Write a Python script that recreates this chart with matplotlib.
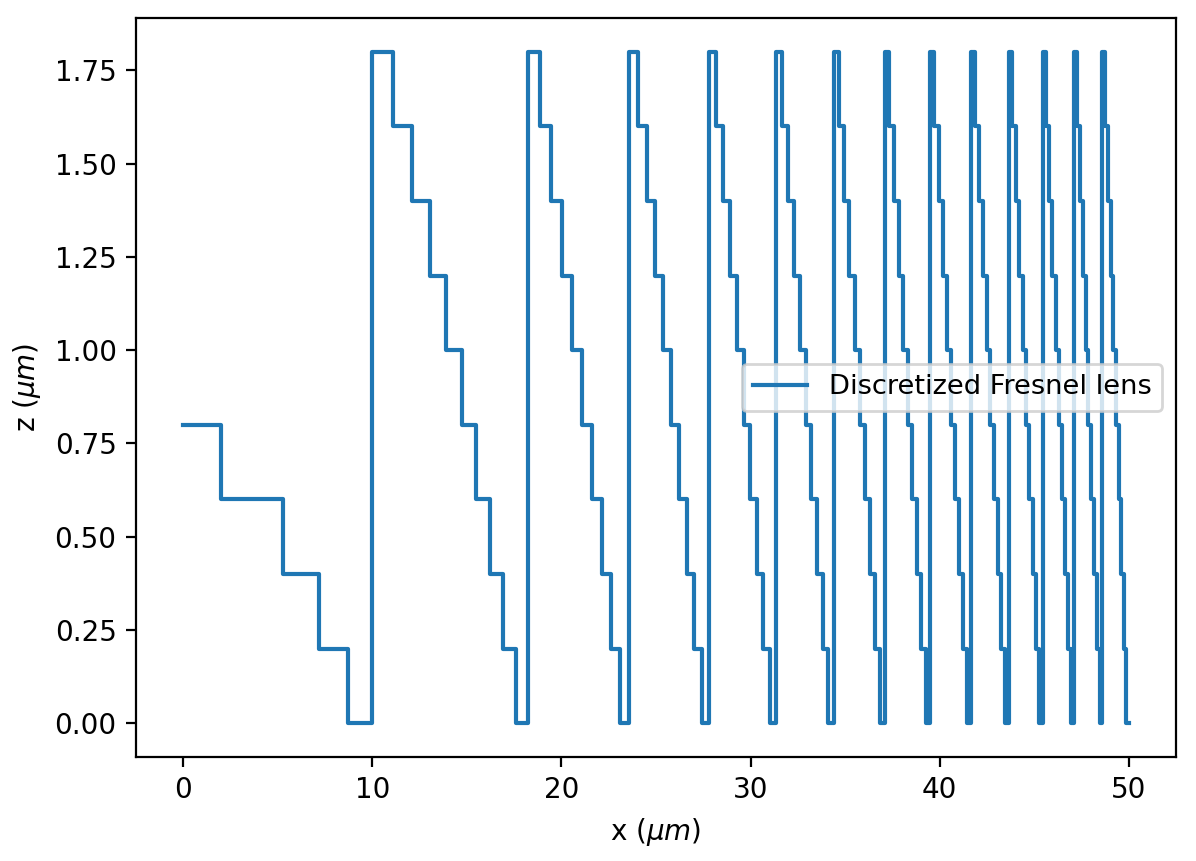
import matplotlib
matplotlib.use("Agg")
import matplotlib.pyplot as plt

# x positions (um) where each height level begins
step_x = [0.00, 2.01, 5.29, 7.20, 8.70, 9.97, 11.09, 12.10, 13.04, 13.91, 14.72, 15.49, 16.22, 16.92, 17.58,
          18.22, 18.84, 19.43, 20.01, 20.56, 21.10, 21.63, 22.14, 22.64, 23.12, 23.59, 24.06, 24.51, 24.95,
          25.38, 25.81, 26.22, 26.63, 27.03, 27.42, 27.81, 28.19, 28.56, 28.93, 29.29, 29.64, 29.99, 30.34,
          30.67, 31.01, 31.34, 31.66, 31.98, 32.30, 32.61, 32.91, 33.22, 33.52, 33.81, 34.10, 34.39, 34.67,
          34.96, 35.23, 35.51, 35.78, 36.04, 36.31, 36.57, 36.83, 37.09, 37.34, 37.59, 37.84, 38.08, 38.32,
          38.56, 38.80, 39.03, 39.27, 39.50, 39.72, 39.95, 40.17, 40.39, 40.61, 40.83, 41.04, 41.26, 41.47,
          41.67, 41.88, 42.08, 42.29, 42.49, 42.68, 42.88, 43.08, 43.27, 43.46, 43.65, 43.84, 44.02, 44.21,
          44.39, 44.57, 44.75, 44.93, 45.11, 45.28, 45.45, 45.62, 45.79, 45.96, 46.13, 46.30, 46.46, 46.62,
          46.78, 46.94, 47.10, 47.26, 47.42, 47.57, 47.72, 47.87, 48.03, 48.17, 48.32, 48.47, 48.61, 48.76,
          48.90, 49.04, 49.18, 49.32, 49.46, 49.60, 49.73, 49.87]
x_end = 50.0

# height levels (um)
first_zone_levels = [0.8, 0.6, 0.4, 0.2, 0.0]
zone_levels = [1.8, 1.6, 1.4, 1.2, 1.0, 0.8, 0.6, 0.4, 0.2, 0.0]
n_full_zones = 13

levels = first_zone_levels + zone_levels * n_full_zones
xs = step_x + [x_end]
zs = levels + [levels[-1]]

fig = plt.figure(figsize=(5.98, 4.305), dpi=200)
ax = fig.add_axes([136 / 1196, 1 - 757 / 861, (1176 - 136) / 1196, (757 - 18) / 861])
ax.plot(xs, zs, drawstyle="steps-post", color="#1f77b4", label="Discretized Fresnel lens")
ax.set_xlabel(r"x ($\mu m$)")
ax.set_ylabel(r"z ($\mu m$)")
ax.legend(loc="center right", fontsize=9.8)
fig.savefig("out.png", dpi=200)
